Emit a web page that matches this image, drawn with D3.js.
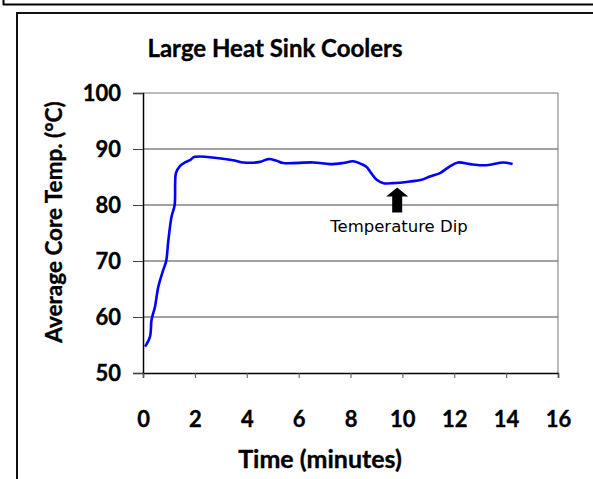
<!DOCTYPE html>
<html>
<head>
<meta charset="utf-8">
<script src="https://cdn.jsdelivr.net/npm/d3@7"></script>
<style>
  body { margin: 0; background: #fff; }
  svg { display: block; }
  .heavy { stroke: #000; stroke-width: 0.35px; }
</style>
</head>
<body>
<svg id="chart" width="593" height="479"></svg>
<script>
// time in minutes vs average core temperature
const times = [0.08, 0.27, 0.33, 0.46, 0.59, 0.78, 0.89, 0.98, 1.1, 1.22, 1.24, 1.27, 1.43, 1.62, 1.81, 2.0,
  3.48, 3.87, 4.51, 4.83, 5.15, 5.41, 6.57, 7.21, 7.72, 8.1, 8.43, 8.62, 8.8, 9.01, 9.27, 9.65,
  10.29, 10.74, 11.06, 11.45, 11.83, 12.15, 12.61, 13.25, 13.89, 14.25];
const temps = [54.7, 56.5, 59.5, 61.8, 65.4, 68.4, 69.9, 73.8, 77.9, 80.0, 83.9, 85.7, 87.0, 87.6, 88.0, 88.6,
  88.0, 87.6, 87.7, 88.2, 87.9, 87.5, 87.6, 87.3, 87.5, 87.8, 87.3, 86.8, 85.7, 84.5, 83.9, 83.9,
  84.2, 84.5, 85.1, 85.7, 86.9, 87.6, 87.3, 87.1, 87.6, 87.3];
const xTicks = [0, 2, 4, 6, 8, 10, 12, 14, 16];
const yTicks = [50, 60, 70, 80, 90, 100];
const annotation = { label: "Temperature Dip", t: 9.8, v: 84 };

const svg = d3.select("#chart");

// page / frame lines
svg.append("line").attr("x1", 3).attr("x2", 593).attr("y1", 4.5).attr("y2", 4.5)
  .attr("stroke", "#000").attr("stroke-width", 2);
svg.append("line").attr("x1", 3.5).attr("x2", 3.5).attr("y1", 0).attr("y2", 5)
  .attr("stroke", "#000").attr("stroke-width", 2);
svg.append("rect").attr("x", 17).attr("y", 13).attr("width", 600).attr("height", 500)
  .attr("fill", "none").attr("stroke", "#111").attr("stroke-width", 2);

const x = d3.scaleLinear().domain([0, 16]).range([143, 558]);
const y = d3.scaleLinear().domain([50, 100]).range([373, 93]);

// grid
svg.append("g")
  .selectAll("line")
  .data(yTicks.slice(1, -1))
  .join("line")
  .attr("x1", x(0)).attr("x2", x(16))
  .attr("y1", d => y(d)).attr("y2", d => y(d))
  .attr("stroke", "#444").attr("stroke-width", 1);

// plot border (top, right)
svg.append("path")
  .attr("d", `M${x(0)},${y(100)}H${x(16)}V${y(50)}`)
  .attr("fill", "none").attr("stroke", "#777").attr("stroke-width", 1);

const fontBold = "Lato, 'Open Sans', sans-serif";

const yAxis = svg.append("g")
  .attr("transform", `translate(${x(0)},0)`)
  .call(d3.axisLeft(y).tickValues(yTicks).tickSize(10).tickPadding(12));
yAxis.select(".domain").attr("stroke", "#000").attr("stroke-width", 1.5);
yAxis.selectAll(".tick line").attr("stroke", "#444");
yAxis.selectAll("text").attr("class", "heavy").attr("font-family", fontBold).attr("font-weight", "bold")
  .attr("font-size", 22).attr("fill", "#000");

const xAxis = svg.append("g")
  .attr("transform", `translate(0,${y(50)})`)
  .call(d3.axisBottom(x).tickValues(xTicks).tickSize(5).tickPadding(33));
xAxis.select(".domain").attr("stroke", "#000").attr("stroke-width", 1.5);
xAxis.selectAll(".tick line").attr("stroke", "#555");
xAxis.selectAll("text").attr("class", "heavy").attr("font-family", fontBold).attr("font-weight", "bold")
  .attr("font-size", 22).attr("fill", "#000");

// line
svg.append("path")
  .datum(times.map((t, i) => [t, temps[i]]))
  .attr("fill", "none")
  .attr("stroke", "#0000ff")
  .attr("stroke-width", 2.6)
  .attr("stroke-linejoin", "round")
  .attr("d", d3.line().x(d => x(d[0])).y(d => y(d[1])).curve(d3.curveCatmullRom));

// arrow
const ax = x(annotation.t);
const ay = y(annotation.v) + 5;
svg.append("path")
  .attr("d", `M${ax},${ay} L${ax + 11},${ay + 9} L${ax + 5},${ay + 9} L${ax + 5},${ay + 25} L${ax - 5},${ay + 25} L${ax - 5},${ay + 9} L${ax - 11},${ay + 9} Z`)
  .attr("fill", "#000");
svg.append("text")
  .attr("x", 399).attr("y", 232)
  .attr("text-anchor", "middle")
  .attr("font-family", "'DejaVu Sans', sans-serif")
  .attr("font-size", 16.5)
  .attr("fill", "#000")
  .text(annotation.label);

// titles
svg.append("text")
  .attr("class", "heavy")
  .attr("x", 275).attr("y", 57)
  .attr("text-anchor", "middle")
  .attr("font-family", fontBold).attr("font-weight", "bold").attr("font-size", 24)
  .text("Large Heat Sink Coolers");

svg.append("text")
  .attr("class", "heavy")
  .attr("x", 320).attr("y", 468)
  .attr("text-anchor", "middle")
  .attr("font-family", fontBold).attr("font-weight", "bold").attr("font-size", 25)
  .text("Time (minutes)");

svg.append("text")
  .attr("class", "heavy")
  .attr("transform", "translate(62,222) rotate(-90)")
  .attr("text-anchor", "middle")
  .attr("font-family", fontBold).attr("font-weight", "bold").attr("font-size", 22.5)
  .text("Average Core Temp. (°C)");
</script>
</body>
</html>
